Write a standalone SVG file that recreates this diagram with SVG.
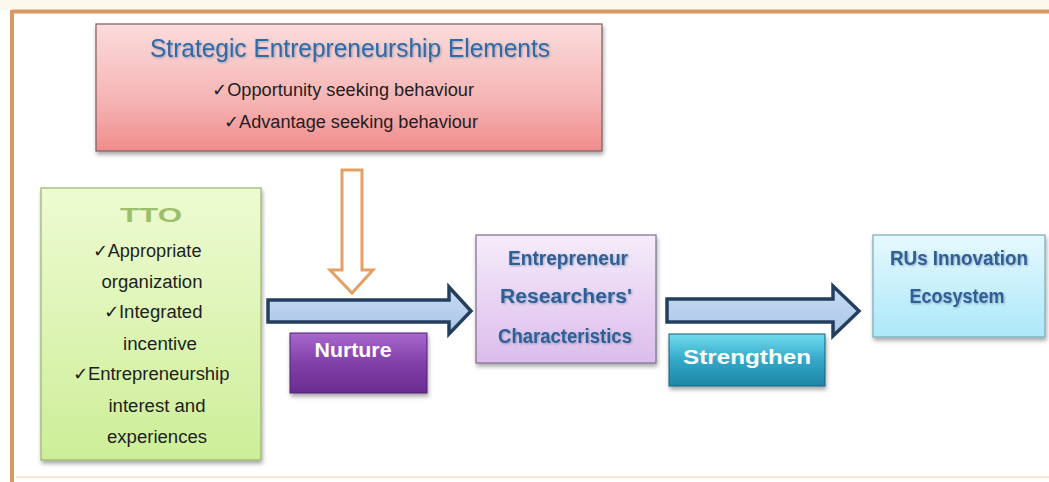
<svg xmlns="http://www.w3.org/2000/svg" width="1049" height="482" viewBox="0 0 1049 482">
<defs>
<linearGradient id="gRed" x1="0" y1="0" x2="0" y2="1"><stop offset="0" stop-color="#fbdcdc"/><stop offset="0.6" stop-color="#f6b4b4"/><stop offset="1" stop-color="#f08c8c"/></linearGradient>
<linearGradient id="gGreen" x1="0" y1="0" x2="0" y2="1"><stop offset="0" stop-color="#eefbd2"/><stop offset="1" stop-color="#cdee98"/></linearGradient>
<linearGradient id="gLav" x1="0" y1="0" x2="0" y2="1"><stop offset="0" stop-color="#f6ecfb"/><stop offset="1" stop-color="#dcbceb"/></linearGradient>
<linearGradient id="gCyan" x1="0" y1="0" x2="0" y2="1"><stop offset="0" stop-color="#e6f9ff"/><stop offset="1" stop-color="#ace8f8"/></linearGradient>
<linearGradient id="gPurple" x1="0" y1="0" x2="0" y2="1"><stop offset="0" stop-color="#a868cc"/><stop offset="0.5" stop-color="#8040a8"/><stop offset="1" stop-color="#6a2c90"/></linearGradient>
<linearGradient id="gTeal" x1="0" y1="0" x2="0" y2="1"><stop offset="0" stop-color="#70dcef"/><stop offset="0.5" stop-color="#34a8c8"/><stop offset="1" stop-color="#1e86a6"/></linearGradient>
<linearGradient id="gArrow" x1="0" y1="0" x2="0" y2="1"><stop offset="0" stop-color="#c8dcf2"/><stop offset="1" stop-color="#a8c4e6"/></linearGradient>
<filter id="sh" x="-10%" y="-10%" width="125%" height="130%"><feDropShadow dx="1" dy="3" stdDeviation="2" flood-color="#000" flood-opacity="0.35"/></filter>
<filter id="tsh" x="-5%" y="-20%" width="110%" height="150%"><feDropShadow dx="1" dy="1" stdDeviation="0.8" flood-color="#6a8aa8" flood-opacity="0.7"/></filter>
</defs>
<style>
.t{font-family:"Liberation Sans",Arial,sans-serif;text-anchor:middle}
.blk{fill:#1e1e1e;font-size:18px}
.blue{fill:#2f5f96;font-weight:bold;font-size:20px}
.wht{fill:#ffffff;font-weight:bold;font-size:21px}
.box{stroke-width:1.2}
.barrow{fill:url(#gArrow);stroke:#243e5e;stroke-width:3.5;stroke-linejoin:miter}
</style>
<rect x="0" y="0" width="1049" height="482" fill="#ffffff"/>
<rect x="0" y="0" width="1049" height="10" fill="#fdf8ee"/>
<g id="frame">
<line x1="12" y1="11.5" x2="1049" y2="11.5" stroke="#d89a62" stroke-width="4"/>
<line x1="12" y1="10" x2="12" y2="482" stroke="#d89a62" stroke-width="4"/>
<line x1="16" y1="477" x2="1049" y2="477" stroke="#fbe6d2" stroke-width="2"/>
</g>
<g id="connectors">
<path d="M342,170 H362 V270 H373 L352,293 L330,270 H342 Z" fill="#ffffff" stroke="#e3a064" stroke-width="3"/>
<path class="barrow" d="M268,300 H449 V287 L471,311 L449,334 V322 H268 Z"/>
<path class="barrow" d="M667,299 H833 V286 L859,311 L833,336 V322 H667 Z"/>
</g>
<g id="strategic">
<rect class="box" x="96" y="24" width="506" height="127" fill="url(#gRed)" stroke="#7a5e60" filter="url(#sh)"/>
<text class="t" x="350" y="57" font-size="25" fill="#2f6aa6" filter="url(#tsh)" textLength="400" lengthAdjust="spacingAndGlyphs">Strategic Entrepreneurship Elements</text>
<text class="t blk" x="343" y="96" textLength="262" lengthAdjust="spacingAndGlyphs">✓Opportunity seeking behaviour</text>
<text class="t blk" x="351" y="128" textLength="254" lengthAdjust="spacingAndGlyphs">✓Advantage seeking behaviour</text>
</g>
<g id="tto">
<rect class="box" x="41" y="188" width="220" height="272" fill="url(#gGreen)" stroke="#98b46c" filter="url(#sh)"/>
<text class="t" x="151" y="222" font-size="21" font-weight="bold" fill="#9cbf6c" textLength="62" lengthAdjust="spacingAndGlyphs">TTO</text>
<text class="t blk" x="147" y="257" textLength="109" lengthAdjust="spacingAndGlyphs">✓Appropriate</text>
<text class="t blk" x="152" y="288" textLength="101" lengthAdjust="spacingAndGlyphs">organization</text>
<text class="t blk" x="153" y="318" textLength="99" lengthAdjust="spacingAndGlyphs">✓Integrated</text>
<text class="t blk" x="160" y="350" textLength="74" lengthAdjust="spacingAndGlyphs">incentive</text>
<text class="t blk" x="151" y="380" textLength="157" lengthAdjust="spacingAndGlyphs">✓Entrepreneurship</text>
<text class="t blk" x="157" y="412" textLength="97" lengthAdjust="spacingAndGlyphs">interest and</text>
<text class="t blk" x="157" y="443" textLength="100" lengthAdjust="spacingAndGlyphs">experiences</text>
</g>
<g id="nurture">
<rect x="290" y="333" width="137" height="60" fill="url(#gPurple)" stroke="#4e2070" stroke-width="1" filter="url(#sh)"/>
<text class="t wht" x="353" y="357" textLength="77" lengthAdjust="spacingAndGlyphs">Nurture</text>
</g>
<g id="entrepreneur">
<rect class="box" x="476" y="235" width="180" height="128" fill="url(#gLav)" stroke="#7c6e8c" filter="url(#sh)"/>
<text class="t blue" x="568" y="265" filter="url(#tsh)" textLength="120" lengthAdjust="spacingAndGlyphs">Entrepreneur</text>
<text class="t blue" x="566" y="303" filter="url(#tsh)" textLength="132" lengthAdjust="spacingAndGlyphs">Researchers'</text>
<text class="t blue" x="565" y="343" filter="url(#tsh)" textLength="134" lengthAdjust="spacingAndGlyphs">Characteristics</text>
</g>
<g id="strengthen">
<rect x="669" y="334" width="156" height="52" fill="url(#gTeal)" stroke="#17607a" stroke-width="1" filter="url(#sh)"/>
<text class="t wht" x="747" y="364" textLength="128" lengthAdjust="spacingAndGlyphs">Strengthen</text>
</g>
<g id="rus">
<rect class="box" x="873" y="235" width="172" height="102" fill="url(#gCyan)" stroke="#78aabb" filter="url(#sh)"/>
<text class="t blue" x="959" y="265" filter="url(#tsh)" textLength="138" lengthAdjust="spacingAndGlyphs">RUs Innovation</text>
<text class="t blue" x="957" y="303" filter="url(#tsh)" textLength="95" lengthAdjust="spacingAndGlyphs">Ecosystem</text>
</g>
</svg>
